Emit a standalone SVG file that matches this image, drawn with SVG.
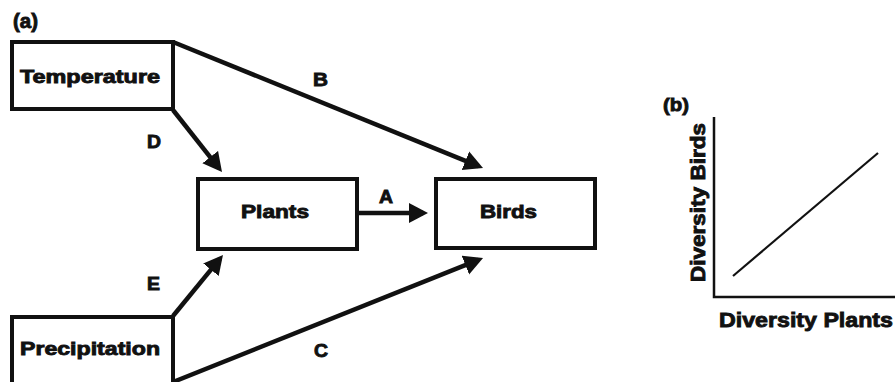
<svg xmlns="http://www.w3.org/2000/svg" width="895" height="382" viewBox="0 0 895 382">
  <style>
    .box { fill: #fff; stroke: #111; stroke-width: 4; }
    .lbl { font-family: "Liberation Sans", Arial, sans-serif; font-weight: bold; font-size: 19px; fill: #111; stroke: #111; stroke-width: 0.9; }
    .ax { font-family: "Liberation Sans", Arial, sans-serif; font-weight: bold; font-size: 21px; fill: #111; stroke: #111; stroke-width: 0.9; }
    .edge { fill: none; stroke: #111; stroke-width: 4.5; marker-end: url(#head); }
    .axis { fill: none; stroke: #111; stroke-width: 2.5; }
  </style>
  <defs>
    <marker id="head" markerUnits="userSpaceOnUse" markerWidth="19" markerHeight="22" viewBox="0 0 19 22" refX="14" refY="11" orient="auto">
      <path d="M0,1 L19,11 L0,21 Z" fill="#111"/>
    </marker>
  </defs>
  <rect width="895" height="382" fill="#fff"/>

  <text class="lbl" x="13" y="28" style="font-size:21px" textLength="25" lengthAdjust="spacingAndGlyphs">(a)</text>

  <!-- connectors -->
  <g id="connectors">
    <line class="edge" x1="359" y1="213" x2="423" y2="213"/>
    <line class="edge" x1="173" y1="42" x2="478.4" y2="166.1"/>
    <line class="edge" x1="173" y1="382" x2="478.4" y2="259.9"/>
    <line class="edge" x1="173" y1="110" x2="218.9" y2="168.1"/>
    <line class="edge" x1="173" y1="316" x2="219.8" y2="258.9"/>
    <text class="lbl" x="379" y="203" textLength="14" lengthAdjust="spacingAndGlyphs">A</text>
    <text class="lbl" x="313" y="86" textLength="15" lengthAdjust="spacingAndGlyphs">B</text>
    <text class="lbl" x="314" y="357" textLength="14" lengthAdjust="spacingAndGlyphs">C</text>
    <text class="lbl" x="147" y="148" textLength="14" lengthAdjust="spacingAndGlyphs">D</text>
    <text class="lbl" x="147" y="290" textLength="13" lengthAdjust="spacingAndGlyphs">E</text>
  </g>

  <g id="temperature">
    <rect class="box" x="12" y="42" width="161" height="67"/>
    <text class="lbl" x="20" y="83" textLength="140" lengthAdjust="spacingAndGlyphs">Temperature</text>
  </g>
  <g id="precipitation">
    <rect class="box" x="12" y="317" width="161" height="80"/>
    <text class="lbl" x="20" y="355" textLength="140" lengthAdjust="spacingAndGlyphs">Precipitation</text>
  </g>
  <g id="plants">
    <rect class="box" x="198" y="179" width="159" height="70"/>
    <text class="lbl" x="241" y="218" textLength="68" lengthAdjust="spacingAndGlyphs">Plants</text>
  </g>
  <g id="birds">
    <rect class="box" x="436" y="179" width="159" height="69"/>
    <text class="lbl" x="480" y="218" textLength="57" lengthAdjust="spacingAndGlyphs">Birds</text>
  </g>

  <!-- panel (b): plant vs bird diversity -->
  <g id="panel-b">
    <text class="lbl" x="663" y="111" textLength="26" lengthAdjust="spacingAndGlyphs">(b)</text>
    <path class="axis" d="M714,117 V297 H895"/>
    <line x1="733" y1="276" x2="878" y2="153" stroke="#111" stroke-width="2.2"/>
    <text class="ax" x="719" y="327" textLength="174" lengthAdjust="spacingAndGlyphs">Diversity Plants</text>
    <text class="ax" transform="translate(705,282) rotate(-90)" x="0" y="0" textLength="159" lengthAdjust="spacingAndGlyphs">Diversity Birds</text>
  </g>
</svg>
